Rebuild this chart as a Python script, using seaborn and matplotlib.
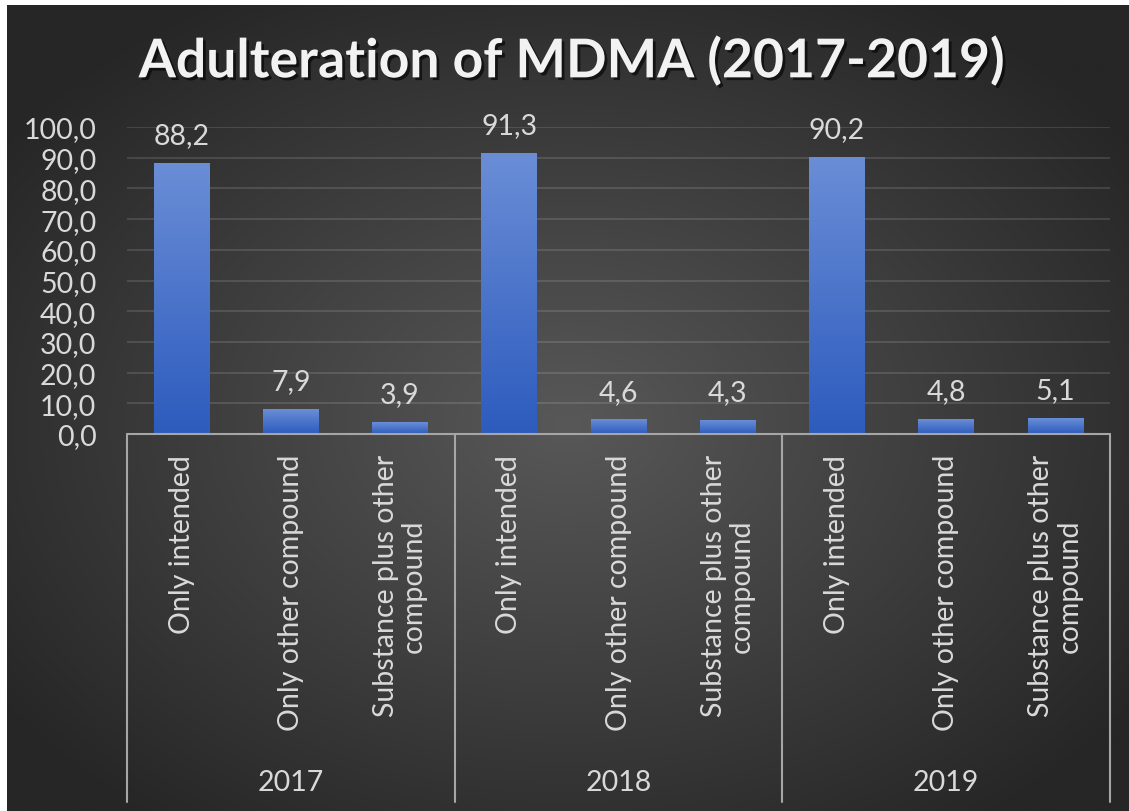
import matplotlib
matplotlib.use("Agg")
import matplotlib.pyplot as plt
import matplotlib.patheffects as pe
import numpy as np
import pandas as pd
import seaborn as sns

# Data
years = ["2017", "2018", "2019"]
categories = ["Only intended", "Only other compound", "Substance plus other\ncompound"]
values_2017 = [88.2, 7.9, 3.9]
values_2018 = [91.3, 4.6, 4.3]
values_2019 = [90.2, 4.8, 5.1]
title = "Adulteration of MDMA (2017-2019)"

rows = []
for year, vals in zip(years, [values_2017, values_2018, values_2019]):
    for cat, v in zip(categories, vals):
        rows.append({"year": year, "category": cat, "key": f"{year}|{cat}", "value": v})
df = pd.DataFrame(rows)
order = list(df["key"])

sns.set_theme(style="dark")
plt.rcParams["font.family"] = ["Lato", "DejaVu Sans"]

TEXT = "#d9d9d9"
FS = 20.5
W, H = 1129, 812
fig = plt.figure(figsize=(W / 100, H / 100), dpi=100, facecolor="white")

# radial gradient background (white strip at top and left as in the screenshot)
bg = fig.add_axes([7 / W, 0, 1 - 7 / W, 1 - 6 / H], zorder=0)
yy, xx = np.mgrid[0:1:400j, 0:1:560j]
r = np.sqrt(((xx - 0.5) / 0.62) ** 2 + ((yy - 0.52) / 0.62) ** 2)
r = np.clip(r, 0, 1)
shade = 0x58 / 255 * (1 - r) + 0x26 / 255 * r
bg.imshow(np.dstack([shade, shade, shade]), aspect="auto", extent=[0, 1, 0, 1])
bg.set_axis_off()

ax = fig.add_axes([127 / W, 1 - 435 / H, (1110 - 127) / W, (435 - 128) / H], zorder=1)
ax.patch.set_alpha(0)
sns.barplot(data=df, x="key", y="value", order=order, width=0.51,
            color="#4472c4", ax=ax, zorder=3)

# vertical gradient on each bar
top = np.array([0x6a, 0x8d, 0xd6]) / 255
bot = np.array([0x2d, 0x5c, 0xbe]) / 255
grad = np.linspace(0, 1, 100)[:, None]
grad_img = (top[None, None, :] * (1 - grad[..., None]) + bot[None, None, :] * grad[..., None])
for p in ax.patches:
    x0, w, h = p.get_x(), p.get_width(), p.get_height()
    ax.imshow(grad_img, extent=[x0, x0 + w, 0, h], aspect="auto", zorder=3)
    p.set_facecolor("none")
    p.set_edgecolor("none")
    ax.annotate(f"{h:.1f}".replace(".", ","), (x0 + w / 2, h), xytext=(0, 11),
                textcoords="offset points", ha="center", va="bottom",
                color=TEXT, fontsize=FS)

ax.set_xlim(-0.5, len(order) - 0.5)
ax.set_ylim(0, 100)
ax.set_yticks(np.arange(0, 101, 10))
ax.set_yticklabels([f"{v:.1f}".replace(".", ",") for v in np.arange(0, 101, 10)],
                   color=TEXT, fontsize=FS)
ax.tick_params(axis="y", length=0, pad=22)
ax.grid(axis="y", color="white", alpha=0.12, linewidth=1.5, zorder=0)
ax.grid(axis="x", visible=False)
for s in ax.spines.values():
    s.set_visible(False)
ax.set_xlabel("")
ax.set_ylabel("")
ax.set_xticks([])

# category axis with multi-level labels
trans = ax.get_xaxis_transform()
axis_h = 435 - 128
ax.plot([-0.5, len(order) - 0.5], [0, 0], transform=trans, color="#a6a6a6",
        linewidth=1.5, clip_on=False, zorder=4)
for xd in [-0.5, 2.5, 5.5, 8.5]:
    ax.plot([xd, xd], [0, -(803 - 435) / axis_h], transform=trans, color="#a6a6a6",
            linewidth=1.5, clip_on=False, zorder=4)
for i, key in enumerate(order):
    cat = key.split("|", 1)[1]
    ax.text(i, -(455 - 435) / axis_h, cat, transform=trans, rotation=90,
            ha="center", va="top", multialignment="center",
            color=TEXT, fontsize=FS, linespacing=1.1)
for g, year in enumerate(years):
    ax.text(g * 3 + 1, -(783 - 435) / axis_h, year, transform=trans,
            ha="center", va="center", color=TEXT, fontsize=FS)

fig.text(572 / W, 1 - 62 / H, title, ha="center", va="center", color="#f2f2f2",
         fontsize=38.5, fontweight="bold",
         path_effects=[pe.withSimplePatchShadow(offset=(2, -2), shadow_rgbFace="black", alpha=0.6)])

fig.savefig("out.png", dpi=100, facecolor="white")
